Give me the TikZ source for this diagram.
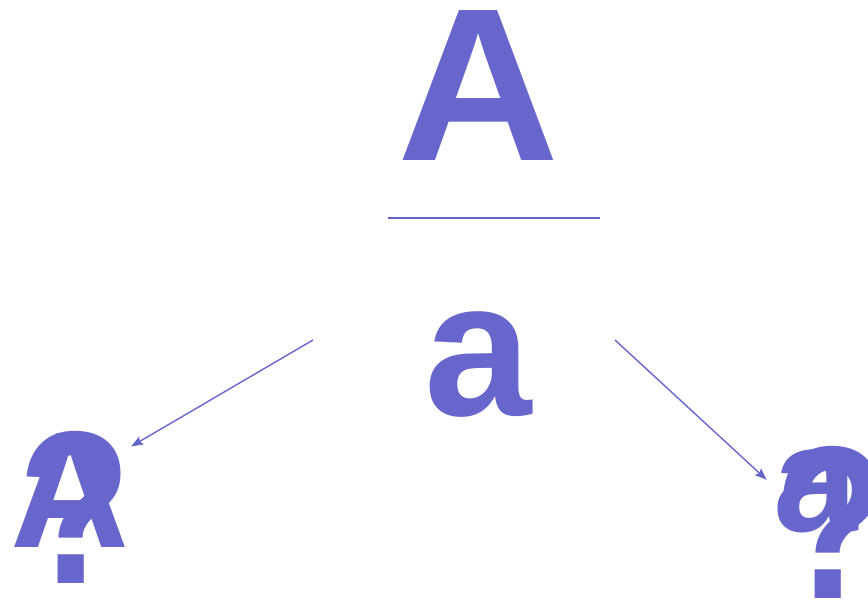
\documentclass[tikz,border=0pt]{standalone}
\usepackage{fontspec}
\setmainfont{Liberation Sans}
\usepackage{xcolor}
\definecolor{allele}{RGB}{102,102,204}
\usetikzlibrary{
  arrows.meta,
  positioning,
  calc
}
\tikzset{
  letter/.style={inner sep=0pt, outer sep=0pt, anchor=base,
    text=allele, font=\bfseries},
  arr/.style={-{Stealth[length=12pt, width=9pt, inset=2pt]},
    draw=allele, line width=1.4pt},
}
\newcommand{\sz}[1]{\fontsize{#1}{#1}\selectfont}

\begin{document}
\begin{tikzpicture}[x=1pt, y=-1pt]
  \useasboundingbox (0,0) rectangle (868,600);

  % Parent
  \node[letter, font=\bfseries\sz{218}, xscale=1.03] (bigA) at (478.5,160) {A};
  \node[letter, font=\bfseries\sz{193}] (smalla) at (478,415) {a};
  \coordinate (barl) at (388,218);
  \coordinate (barr) at (600,218);
  \draw[allele, line width=1.6pt] (barl) -- (barr);

  % Left gamete
  \node[letter, font=\bfseries\sz{165}] (leftA) at (70.5,547) {A};
  \node[letter, font=\bfseries\sz{218}, xscale=0.85] (leftq) at (75.5,583) {?};

  % Right gamete
  \node[letter, font=\bfseries\sz{152}] (righta) at (816,531) {a};
  \node[letter, font=\bfseries\sz{218}, xscale=0.85] (rightq) at (832,598) {?};

  % Arrows
  \coordinate (lstart) at (313,340);
  \coordinate (rstart) at (615,340);
  \draw[arr] (lstart) -- ($(leftA.north east)+(1,13)$);
  \draw[arr] (rstart) -- ($(righta.west)+(-7,-11)$);
\end{tikzpicture}
\end{document}
